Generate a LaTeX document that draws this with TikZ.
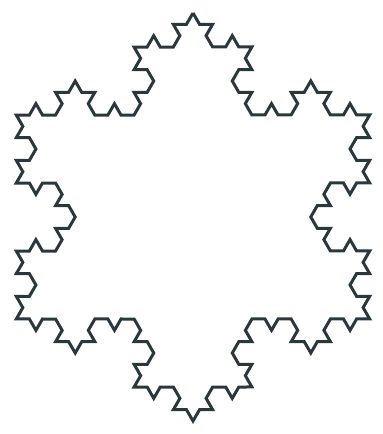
\documentclass[tikz,border=0pt]{standalone}
\usetikzlibrary{decorations.fractals}
\definecolor{flake}{RGB}{42,56,62}
\begin{document}
\begin{tikzpicture}[x=1pt,y=1pt,
  flakeline/.style={draw=flake,line width=3pt,line join=miter,decoration=Koch snowflake}]
\useasboundingbox (0,0) rectangle (383,434);
\coordinate (T) at (193,421);
\coordinate (BR) at (369.7,115);
\coordinate (BL) at (16.3,115);
\draw[flakeline] decorate{ decorate{ decorate{ (T) -- (BR) -- (BL) -- cycle }}};
\end{tikzpicture}
\end{document}
